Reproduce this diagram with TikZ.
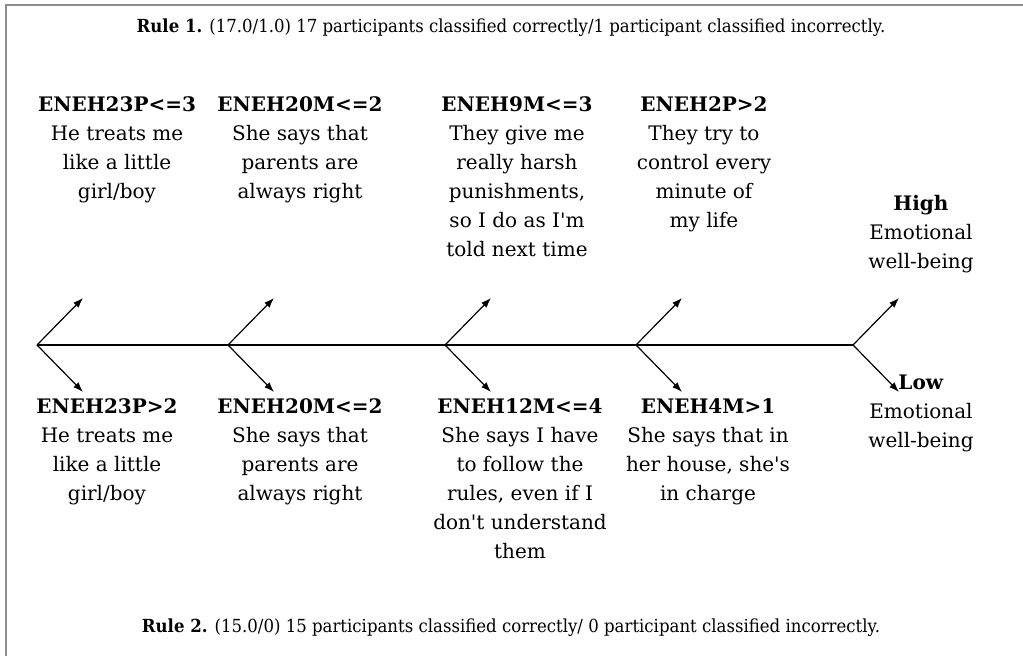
\documentclass[tikz,border=0pt]{standalone}
\usepackage{fontspec}
\setmainfont{DejaVu Serif}
\newfontfamily\rulefont{DejaVu Serif}[FakeStretch=0.92]
\usetikzlibrary{positioning,arrows.meta}

\begin{document}
\begin{tikzpicture}[x=0.5pt,y=0.5pt,line width=0.6pt,>={Latex[length=5pt,width=3.6pt]},
  lab/.style={align=center,anchor=north,inner sep=0pt,font=\fontsize{10}{14.5}\selectfont},
  rule/.style={inner sep=0pt,font=\rulefont\fontsize{9}{11}\selectfont}]
\useasboundingbox (0,0) rectangle (1023,656);
\draw[black!45,line width=1.2pt] (6,0) -- (6,651) -- (1023,651);

\node[rule] (r1) at (511,628) {\textbf{Rule 1.} (17.0/1.0) 17 participants classified correctly/1 participant classified incorrectly.};
\node[rule] (r2) at (511,28) {\textbf{Rule 2.} (15.0/0) 15 participants classified correctly/ 0 participant classified incorrectly.};

\coordinate (b1) at (37,311);
\coordinate (b2) at (228,311);
\coordinate (b3) at (445,311);
\coordinate (b4) at (636,311);
\coordinate (b5) at (853,311);
\coordinate[above right=23.5pt and 23pt of b1] (u1);
\coordinate[above right=23.5pt and 23pt of b2] (u2);
\coordinate[above right=23.5pt and 23pt of b3] (u3);
\coordinate[above right=23.5pt and 23pt of b4] (u4);
\coordinate[above right=23.5pt and 23pt of b5] (u5);
\coordinate[below right=23.5pt and 23pt of b1] (d1);
\coordinate[below right=23.5pt and 23pt of b2] (d2);
\coordinate[below right=23.5pt and 23pt of b3] (d3);
\coordinate[below right=23.5pt and 23pt of b4] (d4);
\coordinate[below right=23.5pt and 23pt of b5] (d5);

\node[lab] (t1) at (117,560) {\textbf{ENEH23P<=3}\\He treats me\\like a little\\girl/boy};
\node[lab] (t2) at (300,560) {\textbf{ENEH20M<=2}\\She says that\\parents are\\always right};
\node[lab] (t3) at (517,560) {\textbf{ENEH9M<=3}\\They give me\\really harsh\\punishments,\\so I do as I\textquotesingle m\\told next time};
\node[lab] (t4) at (704,560) {\textbf{ENEH2P>2}\\They try to\\control every\\minute of\\my life};
\node[lab] (high) at (921,461) {\textbf{High}\\Emotional\\well-being};

\node[lab] (s1) at (107,258) {\textbf{ENEH23P>2}\\He treats me\\like a little\\girl/boy};
\node[lab] (s2) at (300,258) {\textbf{ENEH20M<=2}\\She says that\\parents are\\always right};
\node[lab] (s3) at (520,258) {\textbf{ENEH12M<=4}\\She says I have\\to follow the\\rules, even if I\\don\textquotesingle t understand\\them};
\node[lab] (s4) at (708,258) {\textbf{ENEH4M>1}\\She says that in\\her house, she\textquotesingle s\\in charge};
\node[lab] (low) at (921,282) {\textbf{Low}\\Emotional\\well-being};

\draw (b1) -- (b5);
\draw[->] (b1) -- (u1);
\draw[->] (b1) -- (d1);
\draw[->] (b2) -- (u2);
\draw[->] (b2) -- (d2);
\draw[->] (b3) -- (u3);
\draw[->] (b3) -- (d3);
\draw[->] (b4) -- (u4);
\draw[->] (b4) -- (d4);
\draw[->] (b5) -- (u5);
\draw[->] (b5) -- (d5);
\end{tikzpicture}
\end{document}
